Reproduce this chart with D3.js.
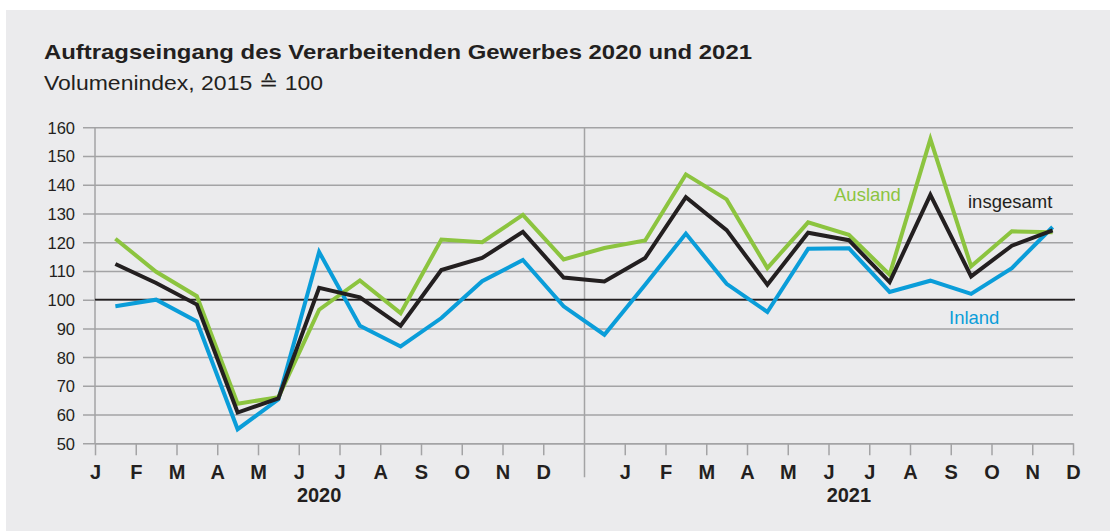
<!DOCTYPE html>
<html>
<head>
<meta charset="utf-8">
<script src="https://cdn.jsdelivr.net/npm/d3@7"></script>
<style>
  body { margin: 0; background: #fff; }
  svg { display: block; font-family: "Liberation Sans", Arial, sans-serif; }
  .yaxis text { font-size: 16.5px; fill: #231f20; }
  .xaxis text { font-size: 20px; font-weight: bold; fill: #231f20; }
  .xaxis line, .xaxis path { stroke: #a3a3a5; stroke-width: 1.5; }
</style>
</head>
<body>
<svg width="1116" height="531"></svg>
<script>
// Volumenindex, 2015 = 100, Jan 2020 .. Dez 2021
const monthLabels = ["J", "F", "M", "A", "M", "J", "J", "A", "S", "O", "N", "D"];
const years = ["2020", "2021"];
const yTicks = [50, 60, 70, 80, 90, 100, 110, 120, 130, 140, 150, 160];

const insgesamt = [112.4, 105.8, 98.3, 60.7, 65.6, 104.1, 100.8, 90.9, 110.3, 114.5, 123.6, 107.7,
                   106.3, 114.5, 135.7, 124.2, 105.2, 123.3, 120.7, 106.1, 136.5, 108.1, 118.8, 124.1];
const ausland   = [121.2, 109.7, 101.2, 63.8, 66.0, 96.5, 106.7, 95.3, 120.9, 120.0, 129.5, 114.0,
                   118.0, 120.6, 143.6, 134.9, 111.0, 126.9, 122.6, 108.7, 155.9, 111.6, 123.8, 123.5];
const inland    = [97.7, 100.0, 92.4, 54.9, 65.3, 116.6, 90.9, 83.7, 93.6, 106.4, 113.8, 97.7,
                   87.8, 105.2, 123.0, 105.5, 95.7, 117.7, 117.9, 102.7, 106.6, 102.0, 111.0, 125.3];

const svg = d3.select("svg");

svg.append("rect")
    .attr("x", 6).attr("y", 10)
    .attr("width", 1104).attr("height", 521)
    .attr("fill", "#ebebed");

svg.append("text")
    .attr("x", 44).attr("y", 59)
    .attr("font-size", 20.5).attr("font-weight", "bold").attr("fill", "#231f20")
    .attr("textLength", 708).attr("lengthAdjust", "spacingAndGlyphs")
    .text("Auftragseingang des Verarbeitenden Gewerbes 2020 und 2021");
svg.append("text")
    .attr("x", 44).attr("y", 90)
    .attr("font-size", 21).attr("fill", "#231f20")
    .attr("textLength", 279).attr("lengthAdjust", "spacingAndGlyphs")
    .text("Volumenindex, 2015 \u2259 100");

const pLeft = 95, pRight = 1073, pTop = 127.3, pBottom = 443.3;
const x = d3.scaleLinear().domain([0, 24]).range([pLeft, pRight]);
const y = d3.scaleLinear().domain([50, 160]).range([pBottom, pTop]);

// horizontal gridlines + y labels
const yAxis = svg.append("g")
    .attr("class", "yaxis")
    .attr("transform", "translate(83,0)")
    .call(d3.axisLeft(y).tickValues(yTicks).tickSizeInner(-(pRight - 83)).tickSizeOuter(0).tickPadding(8));
yAxis.select(".domain").remove();
yAxis.selectAll("line").attr("stroke", "#a3a3a5").attr("stroke-width", 1.5);
yAxis.selectAll("text").attr("dy", "0.36em");

// x axis
const boundaries = d3.range(0, 25);
const xAxis = svg.append("g")
    .attr("class", "xaxis")
    .attr("transform", `translate(0,${pBottom})`)
    .call(d3.axisBottom(x).tickValues(boundaries).tickSizeInner(12).tickSizeOuter(0)
        .tickFormat(k => k < 12 ? monthLabels[k] : (k === 12 ? "" : monthLabels[k - 13])));
xAxis.selectAll("text").attr("y", 36).attr("dy", 0);
xAxis.selectAll(".tick").filter(k => k === 12).select("line")
    .attr("y1", -(pBottom - pTop)).attr("y2", 34);

// y axis line
svg.append("line")
    .attr("x1", pLeft).attr("x2", pLeft)
    .attr("y1", pTop).attr("y2", pBottom)
    .attr("stroke", "#a3a3a5").attr("stroke-width", 1.5);

// year labels
svg.selectAll(".year")
    .data(years)
    .enter().append("text")
    .attr("class", "year")
    .attr("x", (d, i) => x(5.5 + i * 13))
    .attr("y", 501.5)
    .attr("text-anchor", "middle")
    .attr("font-size", 20).attr("font-weight", "bold").attr("fill", "#231f20")
    .text(d => d);

// 100 reference line
svg.append("line")
    .attr("x1", pLeft).attr("x2", 1075)
    .attr("y1", y(100)).attr("y2", y(100))
    .attr("stroke", "#231f20").attr("stroke-width", 1.6);

const line = d3.line()
    .x((d, i) => x(i + 0.5))
    .y(d => y(d));

const series = [
    { name: "Inland", values: inland, color: "#0a9dd9" },
    { name: "Ausland", values: ausland, color: "#8cc43f" },
    { name: "insgesamt", values: insgesamt, color: "#231f20" }
];

svg.selectAll(".series")
    .data(series)
    .enter().append("path")
    .attr("class", "series")
    .attr("fill", "none")
    .attr("stroke", d => d.color)
    .attr("stroke-width", 4)
    .attr("stroke-linejoin", "miter")
    .attr("d", d => line(d.values));

// series labels
const seriesLabels = [
    { text: "Ausland", x: 834, y: 200.5, color: "#8cc43f" },
    { text: "insgesamt", x: 968, y: 207.5, color: "#231f20" },
    { text: "Inland", x: 949, y: 324, color: "#0a9dd9" }
];
svg.selectAll(".slabel")
    .data(seriesLabels)
    .enter().append("text")
    .attr("class", "slabel")
    .attr("x", d => d.x).attr("y", d => d.y)
    .attr("font-size", 18.5)
    .attr("fill", d => d.color)
    .text(d => d.text);
</script>
</body>
</html>
